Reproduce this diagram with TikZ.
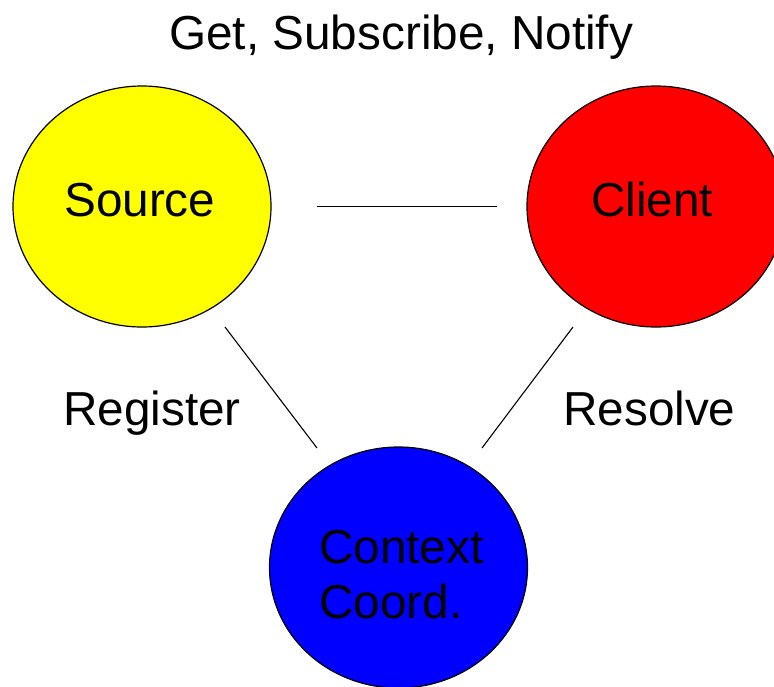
\documentclass[tikz,border=0pt]{standalone}
\usepackage{fontspec}
\setmainfont{Liberation Sans}
\usetikzlibrary{shapes.geometric}
\begin{document}
\begin{tikzpicture}[x=1pt,y=-1pt,
  party/.style={ellipse,draw=black,line width=1.2pt,minimum width=258pt,minimum height=241pt,inner sep=0pt},
  caption/.style={anchor=base west,inner sep=0pt,font=\fontsize{47.7}{55}\selectfont},
  link/.style={draw=black,line width=1.1pt}]
  \useasboundingbox (0,0) rectangle (774,686);
  \clip (0,0) rectangle (774,686);
  \fill[white] (0,0) rectangle (774,686);

  % the three participants
  \node[party,fill={rgb,255:red,255;green,255;blue,0}] (src) at (142,206.5) {};
  \node[party,fill={rgb,255:red,255;green,0;blue,0}] (cli) at (656,206.5) {};
  \node[party,fill={rgb,255:red,0;green,0;blue,255}] (ctx) at (398.5,567.5) {};

  % names inside the circles
  \node[caption] (srcname) at (64,216) {Source};
  \node[caption] (cliname) at (591,216) {Client};
  \node[caption] (ctxname1) at (319,563) {Context};
  \node[caption] (ctxname2) at (319,618) {Coord.};

  % interaction labels
  \node[caption] (gsn) at (169,49) {Get, Subscribe, Notify};
  \node[caption] (reg) at (63,425) {Register};
  \node[caption] (res) at (563,425) {Resolve};

  % connectors between the participants
  \draw[link,shorten <=45pt,shorten >=29pt] (src) -- (cli);
  \coordinate (regA) at (225,327);
  \coordinate (regB) at (317,448);
  \coordinate (resA) at (573,327);
  \coordinate (resB) at (482,448);
  \draw[link] (regA) -- (regB);
  \draw[link] (resA) -- (resB);
\end{tikzpicture}
\end{document}
